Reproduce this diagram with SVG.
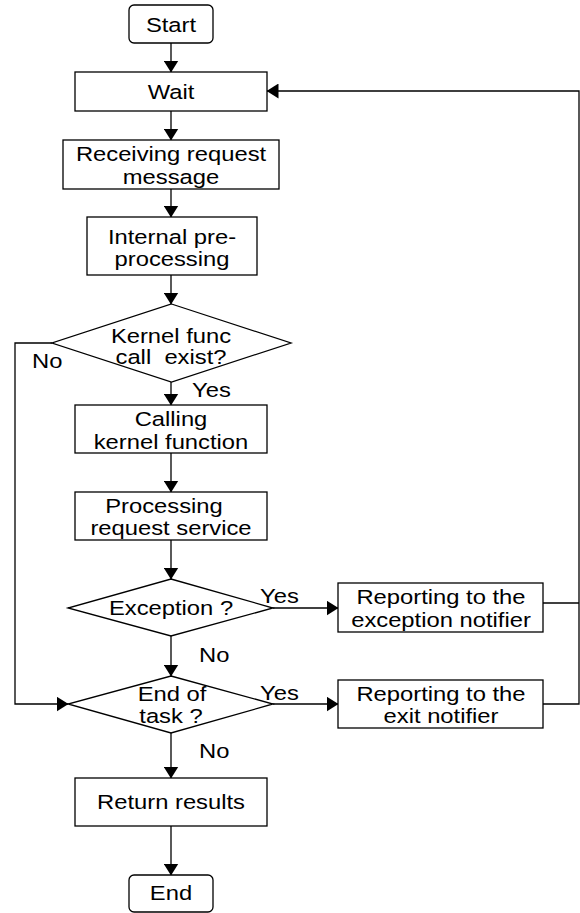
<svg xmlns="http://www.w3.org/2000/svg" width="580" height="913" viewBox="0 0 580 913">
<style>
  .box { fill: #fff; stroke: #000; stroke-width: 1.3; }
  .ln { fill: none; stroke: #000; stroke-width: 1.3; }
  .t { font-family: "Liberation Sans", Arial, sans-serif; font-size: 20.5px; fill: #000; text-anchor: middle; }
  .l { font-family: "Liberation Sans", Arial, sans-serif; font-size: 20.5px; fill: #000; text-anchor: start; }
</style>
<defs>
  <marker id="arr" markerUnits="userSpaceOnUse" markerWidth="12" markerHeight="15" refX="11.5" refY="7.5" orient="auto">
    <path d="M0,0 L12,7.5 L0,15 z" fill="#000"/>
  </marker>
</defs>
<rect width="580" height="913" fill="#fff"/>

<g id="connectors">
  <line class="ln" x1="171" y1="43" x2="171" y2="72" marker-end="url(#arr)"/>
  <line class="ln" x1="171" y1="111" x2="171" y2="140" marker-end="url(#arr)"/>
  <line class="ln" x1="171" y1="189" x2="171" y2="217" marker-end="url(#arr)"/>
  <line class="ln" x1="171" y1="275" x2="171" y2="304" marker-end="url(#arr)"/>
  <line class="ln" x1="171" y1="382" x2="171" y2="405" marker-end="url(#arr)"/>
  <line class="ln" x1="171" y1="453" x2="171" y2="492" marker-end="url(#arr)"/>
  <line class="ln" x1="171" y1="540" x2="171" y2="579" marker-end="url(#arr)"/>
  <line class="ln" x1="171" y1="636" x2="171" y2="676" marker-end="url(#arr)"/>
  <line class="ln" x1="171" y1="733" x2="171" y2="778" marker-end="url(#arr)"/>
  <line class="ln" x1="171" y1="826" x2="171" y2="875" marker-end="url(#arr)"/>
  <polyline class="ln" points="52,343 15,343 15,704 68,704" marker-end="url(#arr)"/>
  <line class="ln" x1="273" y1="608" x2="338" y2="608" marker-end="url(#arr)"/>
  <line class="ln" x1="273" y1="704" x2="338" y2="704" marker-end="url(#arr)"/>
  <line class="ln" x1="543" y1="603" x2="579" y2="603"/>
  <polyline class="ln" points="543,704 579,704 579,91 267,91" marker-end="url(#arr)"/>
  <text class="l" transform="translate(32,368) scale(1.16,1)">No</text>
  <text class="l" transform="translate(192,397) scale(1.16,1)">Yes</text>
  <text class="l" transform="translate(260,603) scale(1.16,1)">Yes</text>
  <text class="l" transform="translate(199,662) scale(1.16,1)">No</text>
  <text class="l" transform="translate(260,700) scale(1.16,1)">Yes</text>
  <text class="l" transform="translate(199,758) scale(1.16,1)">No</text>
</g>

<g id="start">
  <rect class="box" x="129" y="5" width="84" height="38" rx="5"/>
  <text class="t" transform="translate(171,32) scale(1.16,1)">Start</text>
</g>
<g id="wait">
  <rect class="box" x="75" y="72" width="192" height="39"/>
  <text class="t" transform="translate(171,99) scale(1.16,1)">Wait</text>
</g>
<g id="receiving">
  <rect class="box" x="63" y="140" width="216" height="49"/>
  <text class="t" transform="translate(171,161) scale(1.16,1)">Receiving request</text>
  <text class="t" transform="translate(171,184) scale(1.16,1)">message</text>
</g>
<g id="preprocessing">
  <rect class="box" x="87" y="217" width="170" height="58"/>
  <text class="t" transform="translate(172,244) scale(1.16,1)">Internal pre-</text>
  <text class="t" transform="translate(172,266) scale(1.16,1)">processing</text>
</g>
<g id="kernel-check">
  <polygon class="box" points="171.5,304 291,343 171.5,382 52,343"/>
  <text class="t" transform="translate(171,343) scale(1.16,1)">Kernel func</text>
  <text class="t" transform="translate(171,364) scale(1.16,1)" xml:space="preserve">call  exist?</text>
</g>
<g id="calling">
  <rect class="box" x="75" y="405" width="192" height="48"/>
  <text class="t" transform="translate(171,426) scale(1.16,1)">Calling</text>
  <text class="t" transform="translate(171,449) scale(1.16,1)">kernel function</text>
</g>
<g id="processing">
  <rect class="box" x="75" y="492" width="192" height="48"/>
  <text class="t" transform="translate(164,513) scale(1.16,1)">Processing</text>
  <text class="t" transform="translate(171,535) scale(1.16,1)">request service</text>
</g>
<g id="exception-check">
  <polygon class="box" points="171,579 273,608 171,636 68,608"/>
  <text class="t" transform="translate(171,615) scale(1.16,1)">Exception ?</text>
</g>
<g id="end-check">
  <polygon class="box" points="171,676 273,704 171,733 68,704"/>
  <text class="t" transform="translate(172,701) scale(1.16,1)">End of</text>
  <text class="t" transform="translate(171,723) scale(1.16,1)">task ?</text>
</g>
<g id="exception-notifier">
  <rect class="box" x="338" y="583" width="205" height="49"/>
  <text class="t" transform="translate(441,604) scale(1.16,1)">Reporting to the</text>
  <text class="t" transform="translate(441,627) scale(1.16,1)">exception notifier</text>
</g>
<g id="exit-notifier">
  <rect class="box" x="338" y="680" width="205" height="48"/>
  <text class="t" transform="translate(441,701) scale(1.16,1)">Reporting to the</text>
  <text class="t" transform="translate(441,723) scale(1.16,1)">exit notifier</text>
</g>
<g id="return">
  <rect class="box" x="75" y="778" width="192" height="48"/>
  <text class="t" transform="translate(171,809) scale(1.16,1)">Return results</text>
</g>
<g id="end">
  <rect class="box" x="129" y="875" width="84" height="37" rx="5"/>
  <text class="t" transform="translate(171,900) scale(1.16,1)">End</text>
</g>
</svg>
